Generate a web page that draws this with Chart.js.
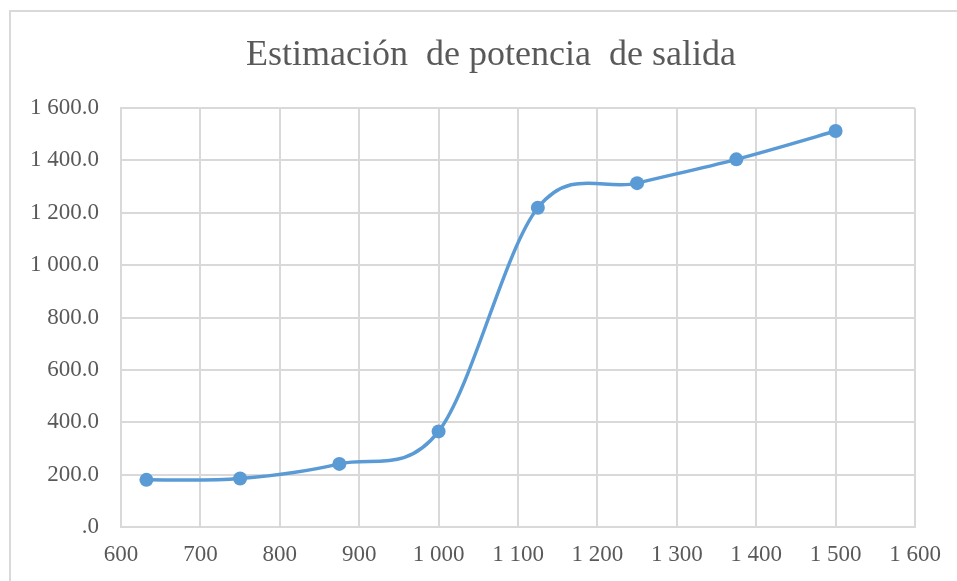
<!DOCTYPE html>
<html>
<head>
<meta charset="utf-8">
<style>
  html, body { margin: 0; padding: 0; background: #fff; }
  #wrap { position: relative; width: 957px; height: 581px; }
  #frame { position: absolute; left: 9px; top: 10px; right: 0; bottom: 0;
           border-left: 2px solid #d9d9d9; border-top: 2px solid #d9d9d9; }
  canvas { position: absolute; left: 0; top: 0; }
</style>
</head>
<body>
<div id="wrap">
  <div id="frame"></div>
  <canvas id="myChart" width="957" height="581"></canvas>
</div>
<script src="https://cdn.jsdelivr.net/npm/chart.js@4.4.0/dist/chart.umd.min.js"></script>
<script>
  var chartTitle = 'Estimación  de potencia  de salida'
  var xValues = [632, 750, 875, 1000, 1125, 1250, 1375, 1500]
  var yValues = [180, 185, 241, 365, 1219, 1313, 1404, 1512]

  var textColor = '#595959'
  var gridColor = '#d9d9d9'
  var serif = "'Liberation Serif', 'Times New Roman', serif"

  function spaced(n) {
    return String(n).replace(/\B(?=(\d{3})+(?!\d))/g, ' ')
  }

  var points = []
  for (var i = 0; i < xValues.length; i++) {
    points.push({x: xValues[i], y: yValues[i]})
  }

  // title drawn by hand so the plot area can be placed exactly
  var titlePlugin = {
    id: 'titleText',
    afterDraw: function(chart) {
      var ctx = chart.ctx
      ctx.save()
      ctx.font = '36px ' + serif
      ctx.fillStyle = textColor
      ctx.textAlign = 'center'
      ctx.textBaseline = 'middle'
      ctx.fillText(chartTitle, 491, 56)
      ctx.restore()
    }
  }

  // Excel-style smoothing: uniform Catmull-Rom handles (1/6 of neighbour span)
  var excelSmooth = {
    id: 'excelSmooth',
    beforeDatasetsDraw: function(chart) {
      var meta = chart.getDatasetMeta(0)
      meta.dataset.updateControlPoints(chart.chartArea, 'x')
      var pts = meta.data
      var n = pts.length
      for (var i = 0; i < n; i++) {
        var prev = pts[Math.max(i - 1, 0)]
        var next = pts[Math.min(i + 1, n - 1)]
        var dx = (next.x - prev.x) / 6
        var dy = (next.y - prev.y) / 6
        pts[i].cp1x = pts[i].x - dx
        pts[i].cp1y = pts[i].y - dy
        pts[i].cp2x = pts[i].x + dx
        pts[i].cp2y = pts[i].y + dy
      }
    }
  }

  var ctx = document.getElementById('myChart').getContext('2d')
  var myChart = new Chart(ctx, {
    type: 'scatter',
    data: {
      datasets: [{
        data: points,
        showLine: true,
        tension: 0.4,
        borderColor: '#5b9bd5',
        backgroundColor: '#5b9bd5',
        borderWidth: 3.5,
        pointRadius: 7,
        pointHoverRadius: 7,
        pointBorderWidth: 0
      }]
    },
    options: {
      responsive: false,
      animation: false,
      layout: { padding: { top: 108, right: 42, bottom: 0, left: 0 } },
      plugins: {
        legend: { display: false },
        title: { display: false },
        tooltip: { enabled: false }
      },
      scales: {
        x: {
          type: 'linear',
          min: 600,
          max: 1600,
          afterFit: function(axis) { axis.height = 54 },
          grid: { color: gridColor, lineWidth: 2, drawTicks: false },
          border: { color: gridColor, width: 2 },
          ticks: {
            stepSize: 100,
            padding: 14,
            color: textColor,
            font: { family: serif, size: 23 },
            maxRotation: 0,
            callback: function(v) { return spaced(v) }
          }
        },
        y: {
          min: 0,
          max: 1600,
          afterFit: function(axis) { axis.width = 121 },
          grid: { color: gridColor, lineWidth: 2, drawTicks: false },
          border: { color: gridColor, width: 2 },
          ticks: {
            stepSize: 200,
            padding: 22,
            color: textColor,
            font: { family: serif, size: 23 },
            callback: function(v) {
              if (v === 0) return '.0'
              return spaced(Math.floor(v)) + '.0'
            }
          }
        }
      }
    },
    plugins: [titlePlugin, excelSmooth]
  })
</script>
</body>
</html>
